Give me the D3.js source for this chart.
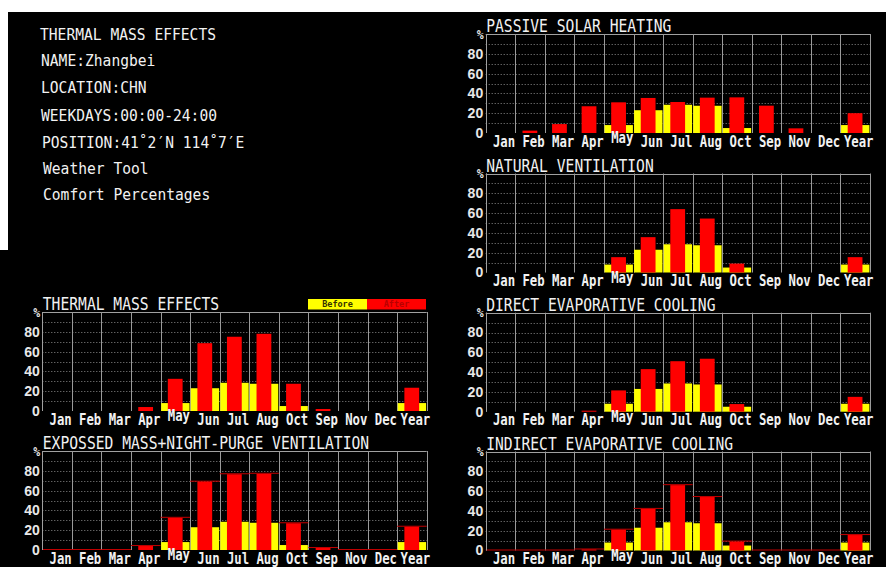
<!DOCTYPE html>
<html>
<head>
<meta charset="utf-8">
<script src="https://cdn.jsdelivr.net/npm/d3@7"></script>
<style>
  html, body { margin: 0; padding: 0; background: #fff; }
  svg { display: block; }
</style>
</head>
<body>
<svg id="chart" width="886" height="567"></svg>
<script>
// ---------- data ----------
const months = ["Jan","Feb","Mar","Apr","May","Jun","Jul","Aug","Oct","Sep","Nov","Dec","Year"];
const beforeVals   = [0, 0, 0, 0, 8, 23, 28.5, 27.5, 5, 0, 0, 0, 8];
const passiveAfter  = [0, 2.4, 9, 27, 31, 35.4, 31.3, 35.7, 36, 27.6, 4.7, 0, 20];
const naturalAfter  = [0, 0, 0, 0, 15.5, 35.7, 64, 54.5, 9, 0, 0, 0, 15.5];
const thermalAfter  = [0, 0, 0, 4, 32.5, 68.5, 75, 78, 27.5, 2, 0, 0, 23.5];
const exposedAfter  = [0, 0, 0, 4, 32.5, 69, 76.5, 77, 27, 2, 0, 0, 23.5];
const directAfter   = [0, 0, 0, 1, 21.5, 43, 51, 53.5, 7.7, 0, 0, 0, 15];
const indirectAfter = [0, 0, 0, 1, 21, 42, 66, 54, 9, 0, 0, 0, 15.6];
const yTicks = [0, 20, 40, 60, 80];
const gridTicks = [10, 20, 30, 40, 50, 60, 70, 80, 90];
const headerLines = [
  "THERMAL MASS EFFECTS",
  "NAME:Zhangbei",
  "LOCATION:CHN",
  "WEEKDAYS:00:00-24:00",
  "POSITION:41˚2′N 114˚7′E",
  "Weather Tool",
  "Comfort Percentages"
];
const legendLabels = ["Before", "After"];

// ---------- layout ----------
const W = 886, H = 567;
const svg = d3.select("#chart");
const MONO = "'DejaVu Sans Mono', 'Liberation Mono', monospace";

svg.append("rect").attr("x", 0).attr("y", 0).attr("width", W).attr("height", H).attr("fill", "#fff");
svg.append("rect").attr("x", 8).attr("y", 12).attr("width", W - 8).attr("height", H - 12).attr("fill", "#000");
svg.append("rect").attr("x", 0).attr("y", 250).attr("width", 8).attr("height", H - 250).attr("fill", "#000");

// header text block
const headerPos = [[40, 40], [41, 66], [41, 93], [41, 121], [42, 148], [43, 174], [43, 200]];
headerLines.forEach((t, i) => {
  svg.append("text")
    .attr("x", headerPos[i][0]).attr("y", headerPos[i][1])
    .attr("fill", "#f2f2f2")
    .attr("font-family", MONO)
    .attr("font-size", 16.5)
    .attr("textLength", t.length * 8.8)
    .attr("lengthAdjust", "spacingAndGlyphs")
    .text(t);
});

const panels = [
  { title: "PASSIVE SOLAR HEATING", after: passiveAfter, outline: false, x0: 485.7, x1: 870, top: 34 },
  { title: "NATURAL VENTILATION", after: naturalAfter, outline: false, x0: 485.7, x1: 870, top: 173.5 },
  { title: "DIRECT EVAPORATIVE COOLING", after: directAfter, outline: false, x0: 485.7, x1: 870, top: 312.7 },
  { title: "INDIRECT EVAPORATIVE COOLING", after: indirectAfter, outline: true, x0: 485.7, x1: 870, top: 451.5 },
  { title: "THERMAL MASS EFFECTS", after: thermalAfter, outline: false, x0: 42.3, x1: 426.7, top: 312, legend: true },
  { title: "EXPOSSED MASS+NIGHT-PURGE VENTILATION", after: exposedAfter, outline: true, x0: 42.3, x1: 426.7, top: 451 }
];
const PH = 99;

panels.forEach(p => drawPanel(p));

function drawPanel(p) {
  const g = svg.append("g");
  const base = p.top + PH;
  const x = d3.scaleBand().domain(months).range([p.x0, p.x1]).padding(0);
  const y = d3.scaleLinear().domain([0, 100]).range([base, p.top]);
  const bw = x.bandwidth();

  // dotted horizontal grid
  g.selectAll("line.hg").data(gridTicks).join("line")
    .attr("x1", p.x0).attr("x2", p.x1)
    .attr("y1", d => Math.round(y(d)) + 0.5).attr("y2", d => Math.round(y(d)) + 0.5)
    .attr("stroke", "#8a8a8a").attr("stroke-width", 1).attr("stroke-dasharray", "1,2");
  // top border
  g.append("line").attr("x1", p.x0).attr("x2", p.x1)
    .attr("y1", Math.round(y(100)) + 0.5).attr("y2", Math.round(y(100)) + 0.5)
    .attr("stroke", "#a0a0a0");
  // vertical cell boundaries
  const bounds = months.map(m => x(m)).concat([p.x1]);
  g.selectAll("line.vg").data(bounds).join("line")
    .attr("x1", d => Math.round(d) + 0.5).attr("x2", d => Math.round(d) + 0.5)
    .attr("y1", y(100)).attr("y2", base)
    .attr("stroke", "#9a9a9a").attr("stroke-width", 1);

  // before bars (full cell width)
  g.selectAll("rect.before").data(months).join("rect")
    .attr("x", d => x(d) + 0.6)
    .attr("width", bw - 1.2)
    .attr("y", (d, i) => y(beforeVals[i]))
    .attr("height", (d, i) => base - y(beforeVals[i]))
    .attr("fill", "#ffff00");

  // thin line at the after value across the full cell
  if (p.outline) {
    g.selectAll("line.outl").data(months).join("line")
      .attr("x1", d => x(d)).attr("x2", d => x(d) + bw)
      .attr("y1", (d, i) => y(p.after[i]) - 0.5)
      .attr("y2", (d, i) => y(p.after[i]) - 0.5)
      .attr("stroke", "#c00000").attr("stroke-width", 1);
  }

  // after bars (centre of cell)
  g.selectAll("rect.after").data(months).join("rect")
    .attr("x", d => x(d) + bw * 0.245)
    .attr("width", bw * 0.5)
    .attr("y", (d, i) => y(p.after[i]))
    .attr("height", (d, i) => base - y(p.after[i]))
    .attr("fill", "#ff0000");

  // x axis labels
  const xa = g.append("g").attr("transform", `translate(0,${base})`)
    .call(d3.axisBottom(x).tickSize(0).tickPadding(0));
  xa.select(".domain").remove();
  xa.selectAll("text")
    .attr("fill", "#f2f2f2")
    .attr("font-family", MONO)
    .attr("font-weight", "bold")
    .attr("font-size", 15)
    .attr("dy", null)
    .attr("dx", 3.5)
    .attr("y", d => d === "May" ? 10 : 13.5)
    .attr("textLength", d => d.length * 7.4)
    .attr("lengthAdjust", "spacingAndGlyphs");

  // y axis labels
  const ya = g.append("g").attr("transform", `translate(${p.x0},0)`)
    .call(d3.axisLeft(y).tickValues(yTicks).tickSize(0).tickPadding(2.5));
  ya.select(".domain").remove();
  ya.selectAll("text")
    .attr("fill", "#e8e8e8")
    .attr("font-family", "'Liberation Sans', Arial, sans-serif")
    .attr("font-weight", "bold")
    .attr("font-size", 14);
  // left border line
  g.append("line").attr("x1", Math.round(p.x0) + 0.5).attr("x2", Math.round(p.x0) + 0.5)
    .attr("y1", y(100)).attr("y2", base).attr("stroke", "#a0a0a0");

  // % unit
  g.append("text").attr("x", p.x0 - 5.5).attr("y", p.top + 4.5)
    .attr("text-anchor", "middle")
    .attr("fill", "#e8e8e8").attr("font-family", MONO).attr("font-weight", "bold")
    .attr("font-size", 11.5).text("%");

  // title
  g.append("text").attr("x", p.x0 + 0.5).attr("y", p.top - 1.8)
    .attr("fill", "#f2f2f2")
    .attr("font-family", MONO)
    .attr("font-size", 17)
    .attr("textLength", p.title.length * 8.82)
    .attr("lengthAdjust", "spacingAndGlyphs")
    .text(p.title);

  if (p.legend) {
    const lx = 308, lw = 59, ly = p.top - 13, lh = 10.5;
    const cols = ["#ffff00", "#ff0000"];
    const tcol = ["#333300", "#b80000"];
    legendLabels.forEach((t, i) => {
      g.append("rect").attr("x", lx + i * lw).attr("y", ly).attr("width", lw).attr("height", lh).attr("fill", cols[i]);
      g.append("text").attr("x", lx + i * lw + lw / 2).attr("y", ly + 8.3)
        .attr("text-anchor", "middle").attr("fill", tcol[i])
        .attr("font-family", MONO).attr("font-weight", "bold").attr("font-size", 8.5)
        .text(t);
    });
  }
}
</script>
</body>
</html>
